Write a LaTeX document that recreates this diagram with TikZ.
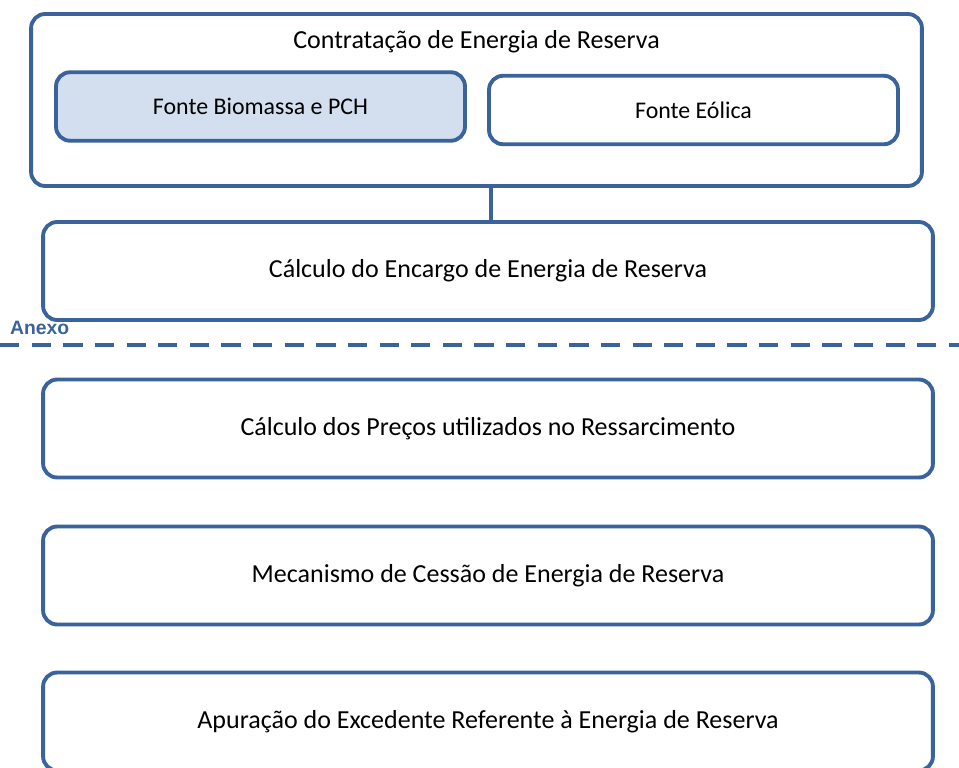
\documentclass[tikz,border=0pt]{standalone}
\usepackage{fontspec}
\setmainfont{Carlito}
\newfontfamily\anexofont{Liberation Sans}
\definecolor{boxline}{RGB}{58,99,155}
\definecolor{boxfill}{RGB}{211,223,238}
\tikzset{
  etapa/.style={draw=boxline, line width=2.2pt, rounded corners=8pt, fill=white,
    minimum width=17.8cm, minimum height=1.96cm, font=\fontsize{14.8}{17}\selectfont},
  fonte/.style={etapa, minimum width=8.18cm, minimum height=1.37cm, font=\fontsize{13.6}{16}\selectfont},
  liga/.style={draw=boxline, line width=2.2pt}
}
\begin{document}
\begin{tikzpicture}[x=0.02cm, y=-0.02cm]
\useasboundingbox (0,0) rectangle (959,767);
\node[etapa, minimum width=17.82cm, minimum height=3.44cm] (contrat) at (476.5,100) {};
\node[font=\fontsize{14.8}{17}\selectfont] (titulo) at (476.5,42) {Contratação de Energia de Reserva};
\node[fonte, fill=boxfill] (bio) at (260.5,106.5) {Fonte Biomassa e PCH};
\node[fonte] (eol) at (693.5,110) {Fonte Eólica};
\node[etapa] (encargo) at (488,271) {Cálculo do Encargo de Energia de Reserva};
\node[etapa] (precos) at (488,428.5) {Cálculo dos Preços utilizados no Ressarcimento};
\node[etapa] (cessao) at (488,575.5) {Mecanismo de Cessão de Energia de Reserva};
\node[etapa] (excedente) at (488,721.5) {Apuração do Excedente Referente à Energia de Reserva};

\draw[liga] ([xshift=2pt]eol.west |- contrat.south) -- ([xshift=2pt]eol.west |- encargo.north);

% separacao do anexo
\coordinate (sepA) at (0,345);
\coordinate (sepB) at (959,345);
\draw[boxline, line width=2.2pt, dash pattern=on 11pt off 7pt] (sepA) -- (sepB);
\node[anchor=south west, inner sep=1pt, text=boxline, font=\anexofont\bfseries\fontsize{11}{13}\selectfont] (anexo) at (8,337) {Anexo};
\end{tikzpicture}
\end{document}
